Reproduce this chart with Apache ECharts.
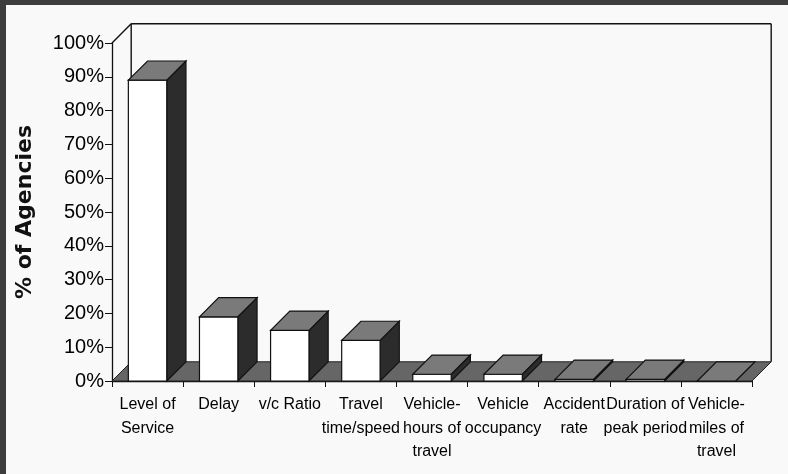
<!DOCTYPE html>
<html>
<head>
<meta charset="utf-8">
<script src="https://cdn.jsdelivr.net/npm/echarts@6/dist/echarts.min.js"></script>
<style>
  html, body { margin: 0; padding: 0; background: #3d3d3d; }
  #wrap { position: relative; width: 788px; height: 474px; background: #3d3d3d; }
  #chart { position: absolute; left: 6px; top: 5px; width: 782px; height: 469px; }
</style>
</head>
<body>
<div id="wrap"><div id="chart"></div></div>
<script>
// measures in the survey
var categories = ['Level of\nService', 'Delay', 'v/c Ratio', 'Travel\ntime/speed',
  'Vehicle-\nhours of\ntravel', 'Vehicle\noccupancy', 'Accident\nrate',
  'Duration of\npeak period', 'Vehicle-\nmiles of\ntravel'];
// % of agencies using each measure
var shares = [89, 19, 15, 12, 2, 2, 0.5, 0.5, 0];
var yTicks = [0, 10, 20, 30, 40, 50, 60, 70, 80, 90, 100];

var sans = '"Liberation Sans", Arial, sans-serif';
var topGray = '#7a7a7a', sideGray = '#2c2c2c', floorGray = '#666666';

// floor + back walls of the 3d box
function renderBox(params, api) {
    var band = api.size([1, 0])[0];
    var d = band * 0.27;
    var a = api.coord([0, yTicks[0]]);
    var b = api.coord([categories.length - 1, yTicks[0]]);
    var t = api.coord([0, yTicks[yTicks.length - 1]]);
    var x0 = a[0] - band / 2, x1 = b[0] + band / 2, y0 = a[1], yt = t[1];
    var line = { stroke: '#111', lineWidth: 1.4 };
    return {
        type: 'group',
        children: [
            { type: 'polygon', shape: { points: [[x0, y0], [x1, y0], [x1 + d, y0 - d], [x0 + d, y0 - d]] },
              style: { fill: floorGray, stroke: '#222', lineWidth: 1 } },
            { type: 'line', shape: { x1: x0 + d, y1: yt - d, x2: x1 + d, y2: yt - d }, style: line },
            { type: 'line', shape: { x1: x1 + d, y1: yt - d, x2: x1 + d, y2: y0 - d }, style: line },
            { type: 'line', shape: { x1: x0 + d, y1: yt - d, x2: x0 + d, y2: y0 - d }, style: line },
            { type: 'line', shape: { x1: x0, y1: yt, x2: x0 + d, y2: yt - d }, style: line }
        ]
    };
}

function renderBar(params, api) {
    var top = api.coord([api.value(0), api.value(1)]);
    var base = api.coord([api.value(0), 0]);
    var band = api.size([1, 0])[0];
    var w = band * 0.54, d = band * 0.27;
    var xa = top[0] - w / 2, xb = top[0] + w / 2, yt = top[1], yb = base[1];
    var edge = { stroke: '#111', lineWidth: 1.2 };
    return {
        type: 'group',
        children: [
            { type: 'polygon', shape: { points: [[xb, yt], [xb + d, yt - d], [xb + d, yb - d], [xb, yb]] },
              style: Object.assign({ fill: sideGray }, edge) },
            { type: 'rect', shape: { x: xa, y: yt, width: w, height: yb - yt },
              style: Object.assign({ fill: '#ffffff' }, edge) },
            { type: 'polygon', shape: { points: [[xa, yt], [xb, yt], [xb + d, yt - d], [xa + d, yt - d]] },
              style: Object.assign({ fill: topGray }, edge) }
        ]
    };
}

var chart = echarts.init(document.getElementById('chart'));
chart.setOption({
    backgroundColor: '#f9f9f9',
    animation: false,
    grid: { left: 106, right: 36, top: 38, bottom: 93 },
    xAxis: {
        type: 'category',
        data: categories,
        axisLine: { lineStyle: { color: '#111', width: 1.3 } },
        axisTick: { show: true, interval: 0, length: 6, lineStyle: { color: '#111' } },
        axisLabel: { interval: 0, color: '#000', fontFamily: sans, fontSize: 16, lineHeight: 23.5, margin: 12 }
    },
    yAxis: {
        type: 'value',
        min: 0, max: 100, interval: 10,
        name: '% of Agencies',
        nameLocation: 'middle',
        nameRotate: 90,
        nameGap: 76,
        nameTextStyle: { fontFamily: '"DejaVu Sans", sans-serif', fontWeight: 'bold', fontSize: 22, color: '#111' },
        splitLine: { show: false },
        axisLine: { show: true, lineStyle: { color: '#111', width: 1.3 } },
        axisTick: { show: true, length: 7, lineStyle: { color: '#111' } },
        axisLabel: { formatter: '{value}%', color: '#000', fontFamily: sans, fontSize: 20, margin: 8 }
    },
    series: [
        { type: 'custom', renderItem: renderBox, data: [[0]], silent: true, z: 1 },
        { type: 'custom', renderItem: renderBar,
          data: shares.map(function (v, i) { return [i, v]; }),
          encode: { x: 0, y: 1 }, z: 2 }
    ]
});
</script>
</body>
</html>
